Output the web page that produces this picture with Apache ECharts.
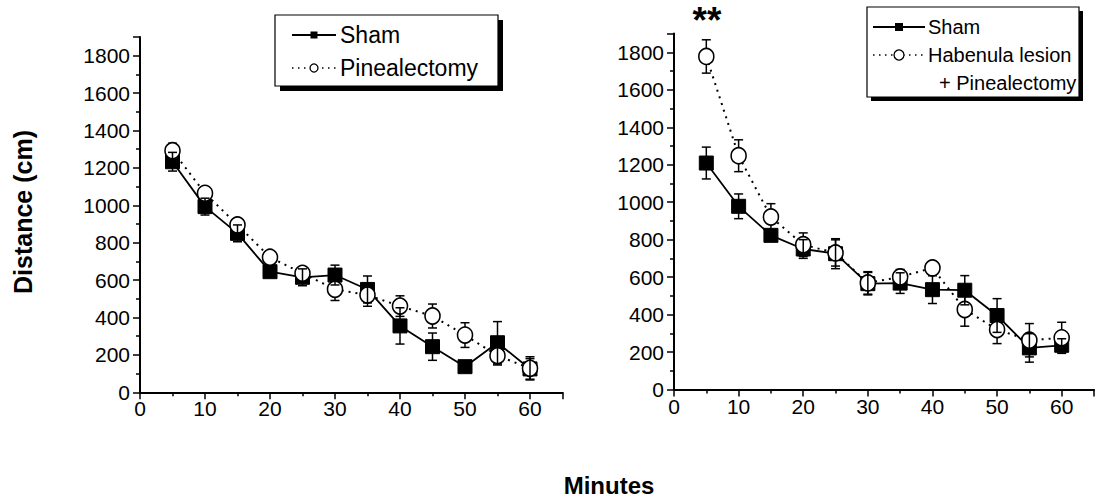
<!DOCTYPE html>
<html>
<head>
<meta charset="utf-8">
<title>Distance over time</title>
<script src="https://cdn.jsdelivr.net/npm/echarts/dist/echarts.min.js"></script>
<style>
  html, body { margin: 0; padding: 0; background: #fff; }
  #chart { width: 1097px; height: 501px; }
</style>
</head>
<body>
<div id="chart"></div>
<script>
// Sampling times (minutes)
const minutes = [5, 10, 15, 20, 25, 30, 35, 40, 45, 50, 55, 60];

// Left panel: Sham vs Pinealectomy (mean and SEM, cm)
const shamA      = [1233, 993, 850, 645, 615, 627, 550, 355, 244, 137, 265, 125];
const shamASem   = [50, 45, 45, 30, 45, 53, 72, 97, 73, 30, 113, 55];
const pinealA    = [1292, 1064, 895, 722, 636, 551, 520, 461, 408, 306, 196, 128];
const pinealASem = [40, 35, 30, 30, 30, 60, 60, 55, 64, 66, 50, 62];

// Right panel: Sham vs Habenula lesion + Pinealectomy
const shamB      = [1209, 978, 823, 750, 725, 565, 568, 533, 530, 395, 222, 236];
const shamBSem   = [85, 66, 30, 50, 80, 60, 55, 74, 78, 90, 76, 35];
const habPinB    = [1778, 1248, 921, 773, 729, 569, 601, 649, 427, 320, 263, 276];
const habPinBSem = [89, 85, 71, 63, 70, 60, 40, 30, 89, 75, 89, 83];

// Axis ranges / tick steps
const xMax = 65, xStep = 10;
const yMax = 1900, yStep = 200;

const FONT = '"Liberation Sans", Arial, Helvetica, sans-serif';

const pairs = (vals) => minutes.map((m, i) => [m, vals[i]]);
const triples = (vals, sem) => minutes.map((m, i) => [m, vals[i], sem[i]]);

function errorBars(params, api) {
  const x = api.value(0), v = api.value(1), e = api.value(2);
  const top = api.coord([x, v + e]);
  const bot = api.coord([x, v - e]);
  const hw = 4.5;
  const style = { stroke: '#000', lineWidth: 1.5, fill: null };
  return {
    type: 'group',
    children: [
      { type: 'line', shape: { x1: top[0], y1: top[1], x2: bot[0], y2: bot[1] }, style },
      { type: 'line', shape: { x1: top[0] - hw, y1: top[1], x2: top[0] + hw, y2: top[1] }, style },
      { type: 'line', shape: { x1: bot[0] - hw, y1: bot[1], x2: bot[0] + hw, y2: bot[1] }, style }
    ]
  };
}

function xAxis(gi) {
  return {
    type: 'value', gridIndex: gi, min: 0, max: xMax, interval: xStep,
    axisLine: { show: true, onZero: false, lineStyle: { color: '#000', width: 2 } },
    axisTick: { show: true, length: 7, lineStyle: { color: '#000', width: 1.5 } },
    minorTick: { show: true, splitNumber: 2, length: 4, lineStyle: { color: '#000', width: 1.5 } },
    splitLine: { show: false },
    axisLabel: {
      color: '#000', fontSize: 21, fontFamily: FONT, margin: 6,
      formatter: v => (v % xStep === 0 ? String(v) : '')
    }
  };
}

function yAxis(gi) {
  return {
    type: 'value', gridIndex: gi, min: 0, max: yMax, interval: yStep,
    axisLine: { show: true, onZero: false, lineStyle: { color: '#000', width: 2 } },
    axisTick: { show: true, length: 7, lineStyle: { color: '#000', width: 1.5 } },
    minorTick: { show: true, splitNumber: 2, length: 4, lineStyle: { color: '#000', width: 1.5 } },
    splitLine: { show: false },
    axisLabel: {
      color: '#000', fontSize: 21, fontFamily: FONT, margin: 10,
      formatter: v => (v % yStep === 0 ? String(v) : '')
    }
  };
}

function shamLine(gi, vals) {
  return {
    type: 'line', xAxisIndex: gi, yAxisIndex: gi, z: 2,
    data: pairs(vals),
    symbol: 'rect', symbolSize: 14, showAllSymbol: true,
    itemStyle: { color: '#000', borderColor: '#000' },
    lineStyle: { color: '#000', width: 1.8, type: 'solid' },
    emphasis: { disabled: true }
  };
}

function openLine(gi, vals) {
  return {
    type: 'line', xAxisIndex: gi, yAxisIndex: gi, z: 4,
    data: pairs(vals),
    symbol: 'circle', symbolSize: [15, 16], showAllSymbol: true,
    itemStyle: { color: '#fff', borderColor: '#000', borderWidth: 1.6 },
    lineStyle: { color: '#000', width: 2, type: [2, 5] },
    emphasis: { disabled: true }
  };
}

function errSeries(gi, vals, sem, z) {
  return {
    type: 'custom', xAxisIndex: gi, yAxisIndex: gi, z: z,
    renderItem: errorBars,
    encode: { x: 0, y: 1 },
    data: triples(vals, sem),
    silent: true
  };
}

// Legend entry helpers (line + marker sample, then label)
function legendSolid(x1, x2, cy, size) {
  const cx = (x1 + x2) / 2;
  return [
    { type: 'line', shape: { x1: x1, y1: cy, x2: x2, y2: cy }, style: { stroke: '#000', lineWidth: 1.8 } },
    { type: 'rect', shape: { x: cx - size / 2, y: cy - size / 2, width: size, height: size }, style: { fill: '#000' } }
  ];
}
function legendDotted(x1, x2, cy, r) {
  const cx = (x1 + x2) / 2;
  return [
    { type: 'line', shape: { x1: x1, y1: cy, x2: x2, y2: cy }, style: { stroke: '#000', lineWidth: 1.5, lineDash: [1.5, 4.5] } },
    { type: 'circle', shape: { cx: cx, cy: cy, r: r }, style: { fill: '#fff', stroke: '#000', lineWidth: 1.3 } }
  ];
}
function label(x, y, text, size) {
  return {
    type: 'text', x: x, y: y,
    style: { text: text, fill: '#000', font: size + 'px ' + FONT, textAlign: 'left', textVerticalAlign: 'middle' }
  };
}

const graphics = [
  // Left legend
  { type: 'rect', shape: { x: 280, y: 20, width: 223, height: 71 }, style: { fill: '#000' }, z: 10 },
  { type: 'rect', shape: { x: 275, y: 15, width: 223, height: 71 }, style: { fill: '#fff', stroke: '#000', lineWidth: 1.2 }, z: 11 },
  ...legendSolid(292, 336, 35, 7).map(g => Object.assign(g, { z: 12 })),
  ...legendDotted(292, 336, 68, 4).map(g => Object.assign(g, { z: 12 })),
  Object.assign(label(340, 35, 'Sham', 23), { z: 12 }),
  Object.assign(label(340, 68, 'Pinealectomy', 23), { z: 12 }),

  // Right legend
  { type: 'rect', shape: { x: 871, y: 11, width: 212, height: 90 }, style: { fill: '#000' }, z: 10 },
  { type: 'rect', shape: { x: 867, y: 7, width: 212, height: 90 }, style: { fill: '#fff', stroke: '#000', lineWidth: 1.2 }, z: 11 },
  ...legendSolid(873, 925, 27, 8).map(g => Object.assign(g, { z: 12 })),
  ...legendDotted(873, 925, 55, 5).map(g => Object.assign(g, { z: 12 })),
  Object.assign(label(928, 27, 'Sham', 20), { z: 12 }),
  Object.assign(label(928, 55, 'Habenula lesion', 20), { z: 12 }),
  Object.assign(label(939, 83, '+ Pinealectomy', 20), { z: 12 }),

  // Significance marker over the first right-panel point
  {
    type: 'text', x: 707, y: 2, z: 12,
    style: { text: '**', fill: '#000', font: 'bold 37px ' + FONT, textAlign: 'center', textVerticalAlign: 'top' }
  },

  // Axis titles
  {
    type: 'text', x: 23, y: 212, rotation: Math.PI / 2, z: 12,
    style: { text: 'Distance (cm)', fill: '#000', font: 'bold 25px ' + FONT, textAlign: 'center', textVerticalAlign: 'middle' }
  },
  {
    type: 'text', x: 609, y: 485, z: 12,
    style: { text: 'Minutes', fill: '#000', font: 'bold 24px ' + FONT, textAlign: 'center', textVerticalAlign: 'middle' }
  }
];

const chart = echarts.init(document.getElementById('chart'), null, { renderer: 'svg', width: 1097, height: 501 });

chart.setOption({
  animation: false,
  backgroundColor: '#fff',
  grid: [
    { left: 140, top: 37, width: 422.5, height: 355.3 },
    { left: 674, top: 33.6, width: 423, height: 355.9 }
  ],
  xAxis: [xAxis(0), xAxis(1)],
  yAxis: [yAxis(0), yAxis(1)],
  series: [
    shamLine(0, shamA),
    errSeries(0, pinealA, pinealASem, 3),
    openLine(0, pinealA),
    errSeries(0, shamA, shamASem, 5),

    shamLine(1, shamB),
    errSeries(1, habPinB, habPinBSem, 3),
    openLine(1, habPinB),
    errSeries(1, shamB, shamBSem, 5)
  ],
  graphic: graphics
});
</script>
</body>
</html>
